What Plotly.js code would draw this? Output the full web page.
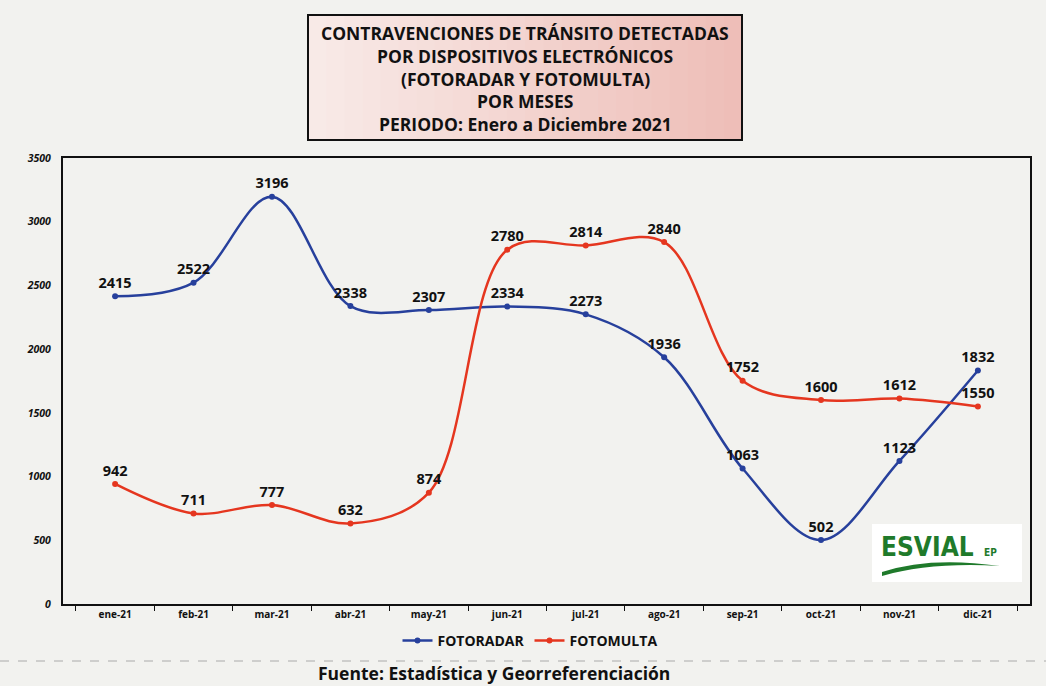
<!DOCTYPE html>
<html>
<head>
<meta charset="utf-8">
<script src="https://cdn.plot.ly/plotly-3.0.1.min.js"></script>
<style>
html,body{margin:0;padding:0;background:#f2f2ef;}
#chart{width:1046px;height:686px;}
</style>
</head>
<body>
<div id="chart"></div>
<script>
const months = ["ene-21","feb-21","mar-21","abr-21","may-21","jun-21","jul-21","ago-21","sep-21","oct-21","nov-21","dic-21"];
const fotoradar = [2415,2522,3196,2338,2307,2334,2273,1936,1063,502,1123,1832];
const fotomulta = [942,711,777,632,874,2780,2814,2840,1752,1600,1612,1550];
const seriesNames = ["FOTORADAR","FOTOMULTA"];
const titleLines = [
  "CONTRAVENCIONES DE TRÁNSITO DETECTADAS",
  "POR DISPOSITIVOS ELECTRÓNICOS",
  "(FOTORADAR Y FOTOMULTA)",
  "POR MESES",
  "PERIODO: Enero a Diciembre 2021"
];
const sourceText = "Fuente: Estadística y Georreferenciación";
const yTicks = [0,500,1000,1500,2000,2500,3000,3500];

const blue = "#27409c";
const red = "#e5361f";
const labelFont = {family:"Open Sans, sans-serif", size:14.5, color:"#111", weight:"bold"};

const traces = [
  {
    x: months, y: fotoradar, name: seriesNames[0], type: "scatter", mode: "lines+markers+text",
    line: {color: blue, width: 2.5, shape: "spline", smoothing: 1},
    marker: {color: blue, size: 6},
    text: fotoradar.map(String), textposition: "top center", textfont: labelFont,
    cliponaxis: false
  },
  {
    x: months, y: fotomulta, name: seriesNames[1], type: "scatter", mode: "lines+markers+text",
    line: {color: red, width: 2.5, shape: "spline", smoothing: 1},
    marker: {color: red, size: 6},
    text: fotomulta.map(String), textposition: "top center", textfont: labelFont,
    cliponaxis: false
  }
];

// layout geometry (paper units)
const L = 63, R = 1030, T = 158, B = 604;
const px2x = x => (x - L) / (R - L);
const px2y = y => (B - y) / (B - T);

const annotations = titleLines.map((t, i) => ({
  xref: "paper", yref: "paper", x: px2x(525), y: px2y(33 + i * 22.8),
  text: "<b>" + t + "</b>", showarrow: false, xanchor: "center", yanchor: "middle",
  font: {family: "Open Sans, sans-serif", size: 17.5, color: "#111"}
}));
annotations.push({
  xref: "paper", yref: "paper", x: px2x(494), y: px2y(673),
  text: "<b>" + sourceText + "</b>", showarrow: false, xanchor: "center", yanchor: "middle",
  font: {family: "Open Sans, sans-serif", size: 17.5, color: "#111"}
});
annotations.push({
  xref: "paper", yref: "paper", x: px2x(927), y: px2y(547),
  text: "<b>ESVIAL</b>", showarrow: false, xanchor: "center", yanchor: "middle",
  font: {family: "Liberation Sans Narrow, DejaVu Sans Condensed, sans-serif", size: 26, color: "#1f7a2b"}
});
annotations.push({
  xref: "paper", yref: "paper", x: px2x(990), y: px2y(552),
  text: "<b>EP</b>", showarrow: false, xanchor: "center", yanchor: "middle",
  font: {family: "Liberation Sans Narrow, DejaVu Sans Condensed, sans-serif", size: 10, color: "#1f7a2b"}
});

const shapes = [];
// title box with a light-to-pink horizontal gradient made of strips
const bx0 = 308, bx1 = 742, nStrips = 24;
const c0 = [248, 234, 231], c1 = [238, 190, 184];
for (let i = 0; i < nStrips; i++) {
  const f = i / (nStrips - 1);
  const c = c0.map((v, k) => Math.round(v + (c1[k] - v) * f));
  shapes.push({type: "rect", xref: "paper", yref: "paper",
    x0: px2x(bx0 + (bx1 - bx0) * i / nStrips), x1: px2x(bx0 + (bx1 - bx0) * (i + 1) / nStrips + 0.5),
    y0: px2y(140), y1: px2y(15), fillcolor: `rgb(${c[0]},${c[1]},${c[2]})`, line: {width: 0}, layer: "below"});
}
shapes.push(
  {type: "rect", xref: "paper", yref: "paper", x0: px2x(bx0), x1: px2x(bx1), y0: px2y(140), y1: px2y(15),
   fillcolor: "rgba(0,0,0,0)", line: {color: "#111", width: 2}},
  {type: "rect", xref: "paper", yref: "paper", x0: px2x(872), x1: px2x(1022), y0: px2y(582), y1: px2y(524),
   fillcolor: "#ffffff", line: {width: 0}, layer: "below"},
  {type: "path", xref: "paper", yref: "paper",
   path: `M ${px2x(882)} ${px2y(572)} Q ${px2x(930)} ${px2y(556)} ${px2x(1000)} ${px2y(566)} Q ${px2x(930)} ${px2y(562)} ${px2x(882)} ${px2y(576)} Z`,
   fillcolor: "#1f7a2b", line: {width: 0}},
  {type: "line", xref: "paper", yref: "paper", x0: px2x(0), x1: px2x(1046), y0: px2y(661), y1: px2y(661),
   line: {color: "#aaa", width: 1, dash: "dash"}}
);

const layout = {
  width: 1046, height: 686,
  margin: {l: L, r: 1046 - R, t: T, b: 686 - B},
  paper_bgcolor: "#f2f2ef", plot_bgcolor: "#f2f2ef",
  showlegend: true,
  legend: {orientation: "h", x: px2x(530), y: px2y(641), xanchor: "center", yanchor: "middle",
           font: {family: "Open Sans, sans-serif", size: 14, color: "#111", weight: "bold"},
           bgcolor: "rgba(0,0,0,0)"},
  xaxis: {type: "category", showgrid: false, zeroline: false, showline: true, mirror: true,
          linecolor: "#111", linewidth: 2, ticks: "outside", ticklen: 5, tickcolor: "#111",
          tickson: "boundaries",
          tickfont: {family: "Open Sans, sans-serif", size: 10, color: "#111", weight: "bold"}},
  yaxis: {range: [0, 3500], tickvals: yTicks, showgrid: false, zeroline: false, showline: true, mirror: true,
          linecolor: "#111", linewidth: 2, ticks: "", ticklabelstandoff: 8,
          tickfont: {family: "Open Sans, sans-serif", size: 10.5, color: "#111", weight: "bold", style: "italic"}},
  annotations: annotations,
  shapes: shapes
};

Plotly.newPlot("chart", traces, layout, {displayModeBar: false, staticPlot: true});
</script>
</body>
</html>
